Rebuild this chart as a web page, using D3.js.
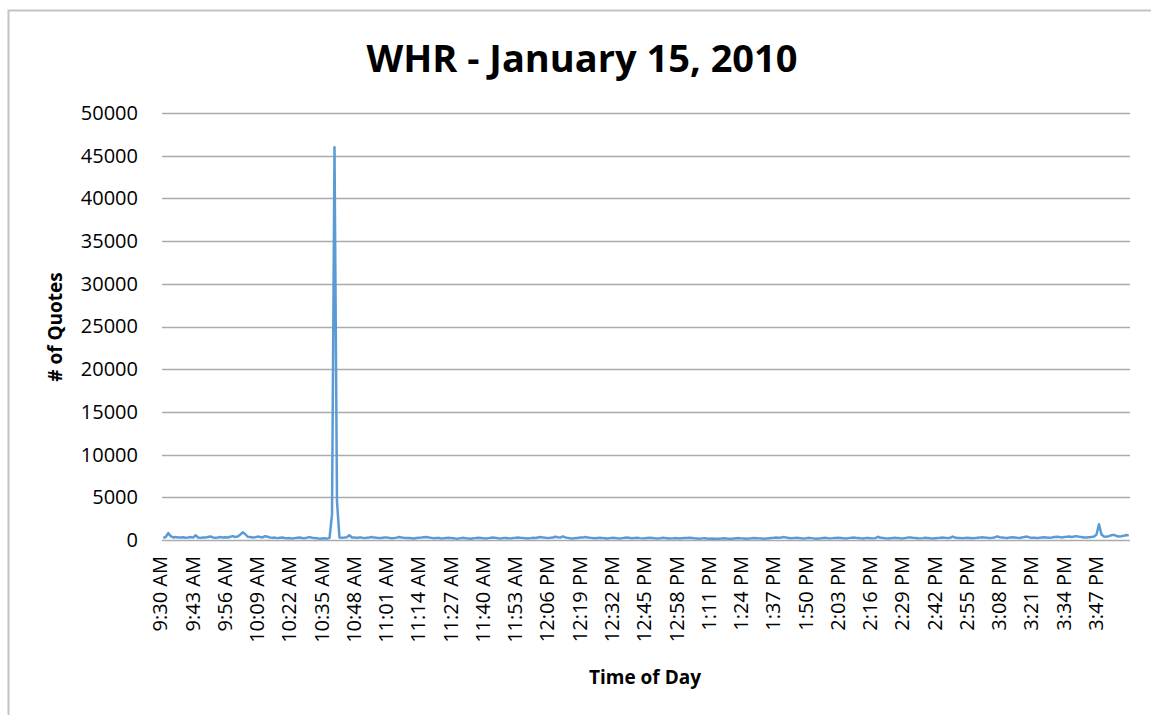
<!DOCTYPE html>
<html>
<head>
<meta charset="utf-8">
<script src="https://cdn.jsdelivr.net/npm/d3@7"></script>
<style>
  body { margin: 0; background: #fff; }
  svg { display: block; font-family: "Open Sans", sans-serif; }
</style>
</head>
<body>
<div id="container"></div>
<script>
// quotes per minute, 9:30 AM .. 3:59 PM (one row per 13 minutes)
var quotes = [
  250, 350, 800, 450, 300, 350, 300, 280, 320, 260, 300, 350, 280,
  550, 300, 250, 300, 280, 350, 420, 300, 260, 300, 350, 280, 320,
  300, 380, 450, 350, 400, 620, 900, 700, 380, 350, 300, 320, 400,
  350, 300, 450, 380, 300, 250, 280, 220, 260, 300, 240, 200, 220,
  180, 220, 260, 300, 240, 200, 280, 340, 260, 220, 200, 160, 180,
  200, 160, 250, 3000, 46000, 4500, 300, 250, 280, 320, 550, 300, 280,
  250, 300, 280, 220, 260, 300, 350, 280, 250, 220, 240, 280, 300,
  250, 200, 230, 280, 350, 300, 260, 240, 220, 200, 180, 230, 260,
  280, 320, 350, 300, 250, 200, 220, 250, 180, 200, 240, 260, 220,
  200, 160, 180, 220, 250, 200, 180, 150, 200, 230, 270, 240, 200,
  180, 220, 260, 300, 250, 200, 180, 220, 240, 210, 190, 230, 260,
  300, 250, 220, 200, 180, 220, 260, 240, 300, 350, 280, 250, 220,
  260, 300, 380, 320, 280, 420, 300, 250, 200, 180, 220, 240, 300,
  280, 350, 300, 250, 220, 200, 240, 260, 220, 200, 180, 220, 250,
  230, 200, 180, 220, 250, 280, 240, 200, 230, 260, 220, 190, 210,
  240, 260, 230, 200, 180, 210, 250, 230, 200, 170, 190, 220, 200,
  180, 200, 220, 240, 260, 230, 200, 180, 160, 190, 210, 180, 150,
  170, 150, 140, 160, 180, 200, 170, 150, 160, 180, 200, 220, 190,
  170, 150, 180, 200, 230, 210, 190, 170, 150, 180, 200, 230, 260,
  300, 250, 280, 350, 280, 240, 200, 220, 250, 230, 200, 180, 200,
  250, 220, 190, 160, 180, 200, 230, 250, 210, 190, 220, 240, 260,
  230, 200, 180, 220, 250, 300, 260, 240, 200, 180, 220, 240, 210,
  190, 220, 380, 250, 230, 200, 180, 210, 230, 250, 220, 200, 190,
  230, 280, 300, 260, 240, 210, 190, 220, 260, 240, 200, 180, 210,
  240, 260, 300, 250, 220, 260, 400, 280, 240, 220, 200, 230, 250,
  230, 200, 220, 250, 280, 330, 280, 250, 230, 260, 300, 420, 320,
  290, 260, 240, 280, 330, 300, 260, 240, 300, 350, 400, 300, 270,
  250, 230, 260, 300, 330, 280, 260, 300, 350, 380, 340, 300, 350,
  380, 420, 350, 400, 450, 380, 340, 300, 280, 320, 360, 400, 650,
  1850, 650, 420, 380, 450, 550, 600, 480, 420, 450, 500, 580, 520
];

var tickLabels = ["9:30 AM", "9:43 AM", "9:56 AM", "10:09 AM", "10:22 AM", "10:35 AM",
  "10:48 AM", "11:01 AM", "11:14 AM", "11:27 AM", "11:40 AM", "11:53 AM", "12:06 PM",
  "12:19 PM", "12:32 PM", "12:45 PM", "12:58 PM", "1:11 PM", "1:24 PM", "1:37 PM",
  "1:50 PM", "2:03 PM", "2:16 PM", "2:29 PM", "2:42 PM", "2:55 PM", "3:08 PM",
  "3:21 PM", "3:34 PM", "3:47 PM"];

var yTicks = [0, 5000, 10000, 15000, 20000, 25000, 30000, 35000, 40000, 45000, 50000];

// one category per minute
var fmt = d3.timeFormat("%-I:%M %p");
var minutes = d3.timeMinute.range(new Date(2010, 0, 15, 9, 30), new Date(2010, 0, 15, 16, 0));
var times = minutes.map(fmt);

var width = 1151, height = 715;
var plot = {left: 162, right: 1130, top: 113, bottom: 540};

var svg = d3.select("#container").append("svg")
    .attr("width", width)
    .attr("height", height);

// chart frame
svg.append("rect")
    .attr("x", 8.5).attr("y", 10.5)
    .attr("width", 1160).attr("height", 720)
    .attr("fill", "none")
    .attr("stroke", "#c4c4c4")
    .attr("stroke-width", 2);

var x = d3.scaleBand()
    .domain(times)
    .range([plot.left, plot.right])
    .padding(0);

var y = d3.scaleLinear()
    .domain([0, 50000])
    .range([plot.bottom, plot.top]);

// gridlines
svg.append("g")
  .selectAll("line")
  .data(yTicks)
  .enter().append("line")
    .attr("x1", plot.left).attr("x2", plot.right)
    .attr("y1", function(d) { return Math.round(y(d)) + 0.5; })
    .attr("y2", function(d) { return Math.round(y(d)) + 0.5; })
    .attr("stroke", "#ababab")
    .attr("stroke-width", 1.5);

// y axis
var yAxis = svg.append("g")
    .attr("transform", "translate(" + (plot.left - 24) + ",0)")
    .call(d3.axisLeft(y).tickValues(yTicks).tickSize(0).tickPadding(0).tickFormat(d3.format("d")));
yAxis.select(".domain").remove();
yAxis.selectAll("text")
    .style("font-family", "Open Sans")
    .style("font-size", "20px")
    .attr("fill", "#000");

// x axis
var xAxis = svg.append("g")
    .attr("transform", "translate(0," + plot.bottom + ")")
    .call(d3.axisBottom(x).tickValues(tickLabels).tickSize(0));
xAxis.select(".domain").remove();
xAxis.selectAll("text")
    .style("font-family", "Open Sans")
    .style("font-size", "20px")
    .attr("fill", "#000")
    .attr("text-anchor", "end")
    .attr("y", 0)
    .attr("dy", "0.35em")
    .attr("transform", "translate(-3,16) rotate(-90)");

// series
var line = d3.line()
    .x(function(d, i) { return x(times[i]) + x.bandwidth() / 2; })
    .y(function(d) { return y(d); });

svg.append("path")
    .datum(quotes)
    .attr("d", line)
    .attr("fill", "none")
    .attr("stroke", "#5b9bd5")
    .attr("stroke-width", 2.5)
    .attr("stroke-linejoin", "round");

// titles
svg.append("text")
    .attr("x", 582).attr("y", 72)
    .attr("text-anchor", "middle")
    .style("font-size", "38px")
    .style("font-weight", "bold")
    .text("WHR - January 15, 2010");

svg.append("text")
    .attr("transform", "translate(62,327) rotate(-90)")
    .attr("text-anchor", "middle")
    .style("font-size", "19px")
    .style("font-weight", "bold")
    .text("# of Quotes");

svg.append("text")
    .attr("x", 645).attr("y", 684)
    .attr("text-anchor", "middle")
    .style("font-size", "19px")
    .style("font-weight", "bold")
    .text("Time of Day");
</script>
</body>
</html>
